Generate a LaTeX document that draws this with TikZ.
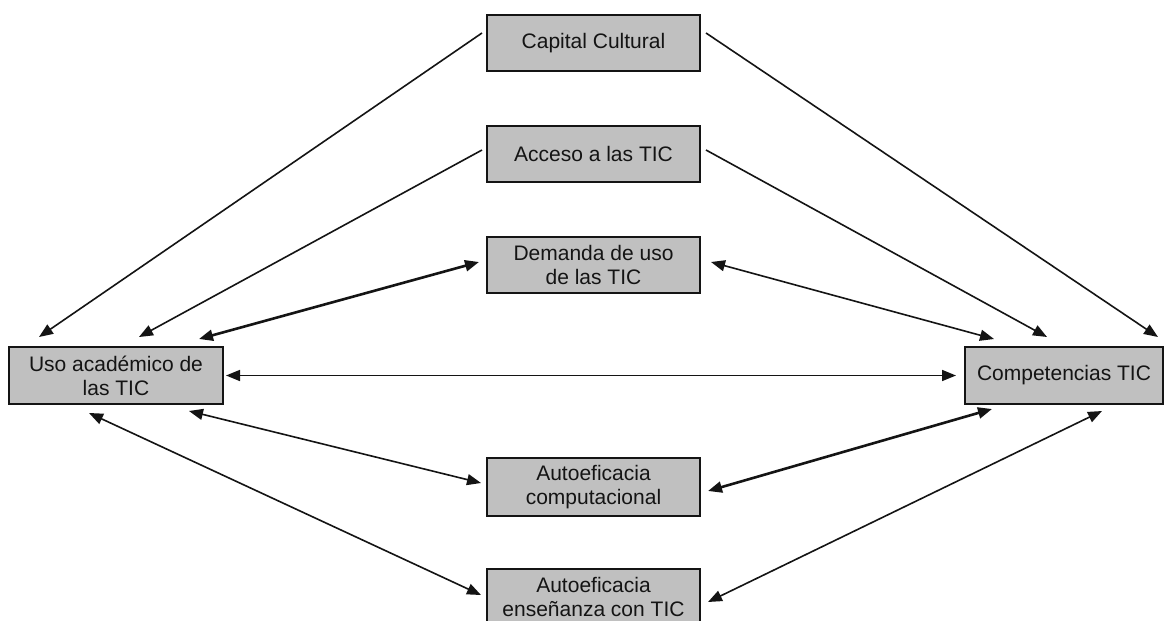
\documentclass[tikz,border=0pt]{standalone}
\usepackage{fontspec}
\setmainfont{Liberation Sans}
\usetikzlibrary{arrows.meta}
\definecolor{boxgray}{HTML}{C0C0C0}
\definecolor{ink}{HTML}{141414}
\tikzset{
  var/.style={draw=ink, line width=2pt, fill=boxgray, text=ink, align=center,
    inner sep=0pt, font=\fontsize{21}{24}\selectfont},
  link/.style={draw=ink, line width=1.6pt, -{Triangle[length=14pt,width=11pt]}},
  both/.style={link, {Triangle[length=14pt,width=11pt]}-{Triangle[length=14pt,width=11pt]}},
  heavy/.style={line width=2.6pt}
}
\begin{document}
\begin{tikzpicture}[x=1pt,y=-1pt]
\useasboundingbox (0,0) rectangle (1168,621);
\clip (0,0) rectangle (1168,621);
\fill[white] (0,0) rectangle (1168,621);

% variables
\node[var, minimum width=213pt, minimum height=56pt] (cap) at (593.5,43) {Capital Cultural};
\node[var, minimum width=213pt, minimum height=56pt] (acc) at (593.5,154) {Acceso a las TIC};
\node[var, minimum width=213pt, minimum height=56pt] (dem) at (593.5,265) {Demanda de uso\\de las TIC};
\node[var, minimum width=214pt, minimum height=57pt] (uso) at (116,375.5) {Uso académico de\\las TIC};
\node[var, minimum width=198pt, minimum height=57pt] (comp) at (1064,375.5) {Competencias TIC};
\node[var, minimum width=213pt, minimum height=58pt] (aco) at (593.5,487) {Autoeficacia\\computacional};
\node[var, minimum width=213pt, minimum height=56pt] (aen) at (593.5,597) {Autoeficacia\\enseñanza con TIC};

% one-way effects
\draw[link] ([shift={(-4,-10)}]cap.west) -- ([shift={(31,-9)}]uso.north west);
\draw[link] ([shift={(5,-10)}]cap.east) -- ([shift={(-6,-9)}]comp.north east);
\draw[link] ([shift={(-4,-4)}]acc.west) -- ([shift={(131,-9)}]uso.north west);
\draw[link] ([shift={(5,-4)}]acc.east) -- ([shift={(83,-9)}]comp.north west);

% reciprocal effects
\draw[both, heavy] ([shift={(-7,-3)}]dem.west) -- ([shift={(-25,-7)}]uso.north east);
\draw[both] ([shift={(10,-3)}]dem.east) -- ([shift={(30,-7)}]comp.north west);
\draw[both] ([shift={(2,0)}]uso.east) -- ([shift={(-8,0)}]comp.west);
\draw[both] ([shift={(-35,6)}]uso.south east) -- ([shift={(-5,-4)}]aco.west);
\draw[both, heavy] ([shift={(7,4)}]aco.east) -- ([shift={(28,4)}]comp.south west);
\draw[both] ([shift={(81,8)}]uso.south west) -- ([shift={(-5,-2)}]aen.west);
\draw[both] ([shift={(7,5)}]aen.east) -- ([shift={(138,6)}]comp.south west);
\end{tikzpicture}
\end{document}
